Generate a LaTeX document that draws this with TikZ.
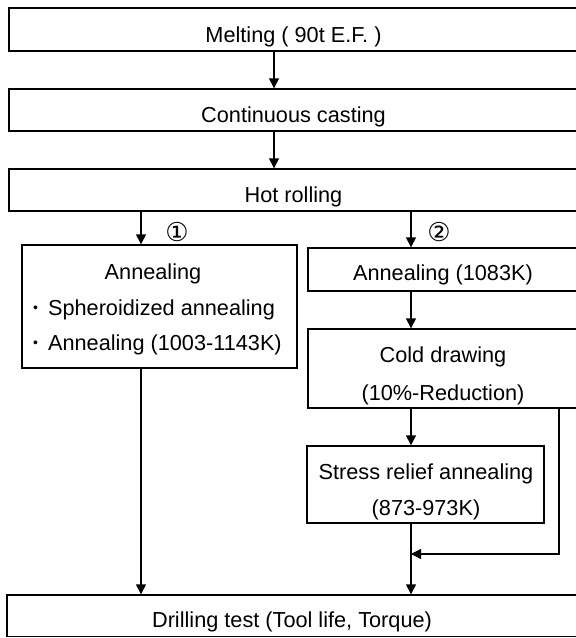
\documentclass[tikz,border=0pt]{standalone}
\usepackage{fontspec}
\setmainfont{Liberation Sans}
\newfontfamily\symfont{DejaVu Sans}
\usetikzlibrary{arrows.meta}
\begin{document}
\begin{tikzpicture}[x=1pt,y=-1pt,
  box/.style={draw, line width=1.4pt, rectangle, inner sep=0pt},
  txt/.style={inner sep=0pt, text height=15.5pt, text depth=0pt, font=\fontsize{21.7}{26}\selectfont},
  circ/.style={inner sep=0pt, font=\symfont\fontsize{26}{26}\selectfont},
  arr/.style={line width=1.4pt, -{Triangle[length=10pt,width=10pt]}}]
\useasboundingbox (0,0) rectangle (576,638);
\clip (0,0) rectangle (576,638);
% boxes
\node[box, minimum width=569pt, minimum height=43pt] (melt) at (293.5,29.5) {};
\node[box, minimum width=569pt, minimum height=42pt] (cont) at (293.5,110) {};
\node[box, minimum width=569pt, minimum height=42pt] (hot) at (293.5,190) {};
\node[box, minimum width=275pt, minimum height=123pt] (annL) at (159.5,306.5) {};
\node[box, minimum width=270pt, minimum height=43pt] (annR) at (443,269.5) {};
\node[box, minimum width=270pt, minimum height=79pt] (cold) at (443,368.5) {};
\node[box, minimum width=237pt, minimum height=77pt] (sra) at (425.5,484.5) {};
\node[box, minimum width=571pt, minimum height=41.5pt] (drill) at (292.5,615.75) {};
% texts
\node[txt] (tmelt) at (293.5,35) {Melting ( 90t E.F. )};
\node[txt] (tcont) at (293.5,115) {Continuous casting};
\node[txt] (thot) at (293.5,195) {Hot rolling};
\node[txt] (tannL) at (153,272) {Annealing};
\node[txt, anchor=west] (tsph) at (33,308) {\raisebox{3pt}{\fontsize{14}{14}\selectfont •}\hspace{10pt}Spheroidized annealing};
\node[txt, anchor=west] (tann2) at (33,343) {\raisebox{3pt}{\fontsize{14}{14}\selectfont •}\hspace{10pt}Annealing (1003-1143K)};
\node[txt] (tannR) at (443,273) {Annealing (1083K)};
\node[txt] (tcold) at (443,355) {Cold drawing};
\node[txt] (tred) at (443,393) {(10\%-Reduction)};
\node[txt] (tsra) at (426,472) {Stress relief annealing};
\node[txt] (ttemp) at (426,508) {(873-973K)};
\node[txt] (tdrill) at (292,620) {Drilling test (Tool life, Torque)};
\node[circ] (n1) at (177,232) {①};
\node[circ] (n2) at (439,232) {②};
% connectors
\coordinate (cM) at (274,0);
\coordinate (cL) at (141,0);
\coordinate (cR) at (411,0);
\coordinate (cB) at (559,0);
\coordinate (jn) at (411,554);
\draw[arr] (melt.south -| cM) -- (cont.north -| cM);
\draw[arr] (cont.south -| cM) -- (hot.north -| cM);
\draw[arr] (hot.south -| cL) -- (annL.north -| cL);
\draw[arr] (hot.south -| cR) -- (annR.north -| cR);
\draw[arr] (annR.south -| cR) -- (cold.north -| cR);
\draw[arr] (cold.south -| cR) -- (sra.north -| cR);
\draw[arr] (sra.south -| cR) -- (drill.north -| cR);
\draw[arr] (annL.south -| cL) -- (drill.north -| cL);
\draw[arr] (cold.south -| cB) |- (jn);
\end{tikzpicture}
\end{document}
